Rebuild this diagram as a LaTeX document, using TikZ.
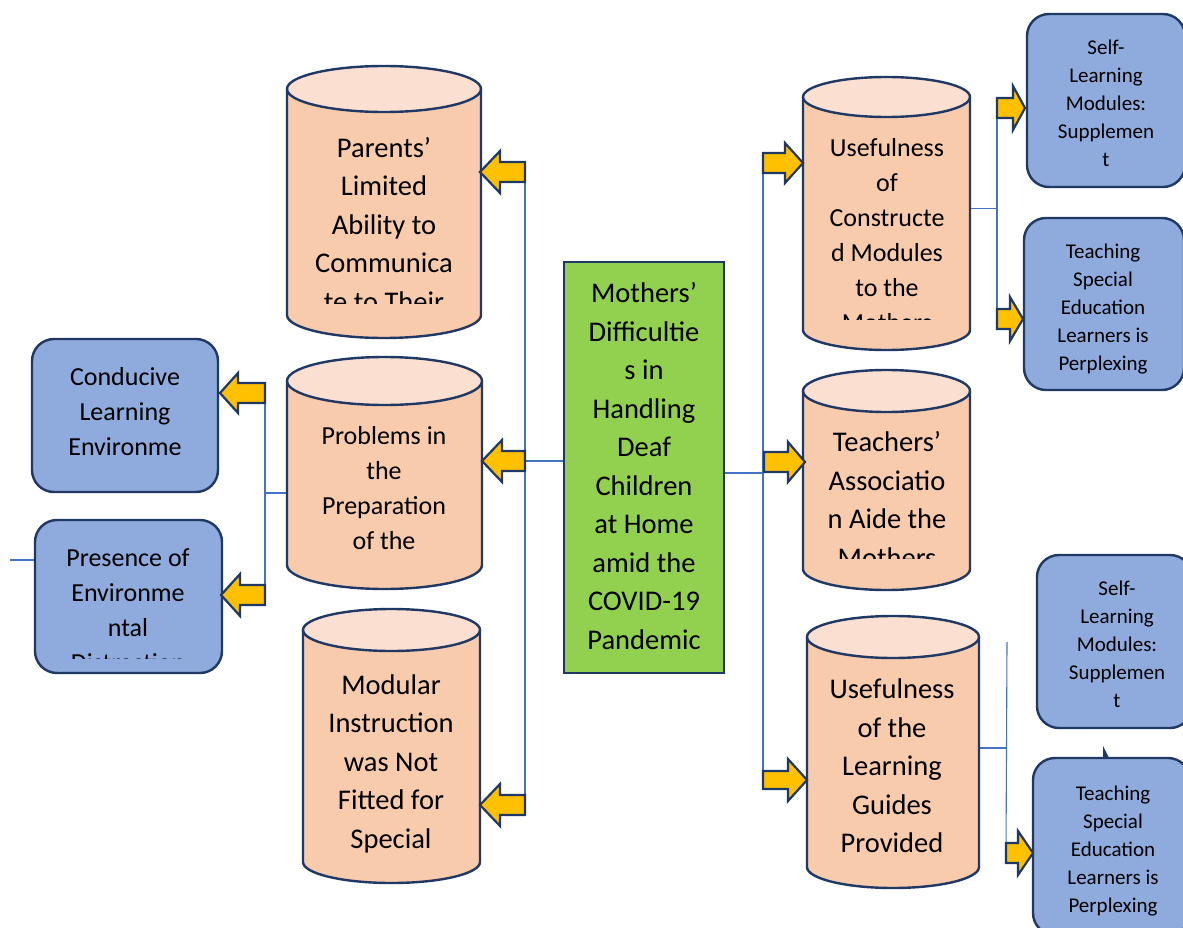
\documentclass[tikz,border=0pt]{standalone}
\usepackage{fontspec}
\setmainfont{Carlito}
\usetikzlibrary{calc}
\definecolor{navy}{HTML}{1F3864}
\definecolor{peach}{HTML}{F8CBAD}
\definecolor{peachtop}{HTML}{FBE0D1}
\definecolor{boxblue}{HTML}{8FAADC}
\definecolor{grn}{HTML}{92D050}
\definecolor{gold}{HTML}{FFC000}
\definecolor{linkblue}{HTML}{4472C4}
\pgfdeclarelayer{bg}
\pgfsetlayers{bg,main}
\newcommand{\fBig}{\fontsize{28.5}{38.5}\selectfont}
\newcommand{\fMid}{\fontsize{26}{35}\selectfont}
\newcommand{\fSmall}{\fontsize{21}{28}\selectfont}
% name, L, R, T, B, ry
\newcommand{\cylshape}[6]{%
  \node[inner sep=0, minimum width={(#3-#2)*1pt}, minimum height={(#5-#4)*1pt}] (#1) at ({(#2+#3)/2},{(#4+#5)/2}) {};
  \fill[peach] (#2,{#4+#6}) -- (#2,{#5-#6}) arc[start angle=180,end angle=360,x radius={(#3-#2)/2*1pt},y radius={#6*1pt}] -- (#3,{#4+#6}) arc[start angle=0,end angle=180,x radius={(#3-#2)/2*1pt},y radius={#6*1pt}] -- cycle;
  \filldraw[fill=peachtop, outl] ({(#2+#3)/2},{#4+#6}) ellipse [x radius={(#3-#2)/2*1pt},y radius={#6*1pt}];
  \draw[outl] (#2,{#4+#6}) -- (#2,{#5-#6}) arc[start angle=180,end angle=360,x radius={(#3-#2)/2*1pt},y radius={#6*1pt}] -- (#3,{#4+#6});
}
% name, tipx, tipy, dir(1 = points left, -1 = points right), length, head length, head half, shaft half
\newcommand{\blockarrow}[8]{%
  \coordinate (#1) at ({#2+(#4)*#5},#3);
  \draw[arrowst] (#2,#3) -- ++({(#4)*#6},{#7}) -- ++(0,{#8-#7}) -- ++({(#4)*(#5-#6)},0) -- ++(0,{-2*#8}) -- ++({(-1)*(#4)*(#5-#6)},0) -- ++(0,{#8-#7}) -- cycle;
}
\begin{document}
\begin{tikzpicture}[x=1pt,y=-1pt,
  outl/.style={draw=navy, line width=2.4pt},
  arrowst/.style={fill=gold, draw=navy, line width=2.2pt, line join=miter},
  link/.style={draw=linkblue, line width=1.1pt},
  rbox/.style={draw=navy, line width=2.4pt, fill=boxblue, rounded corners=22pt, inner sep=0},
  txt/.style={inner sep=0, align=center, anchor=north, text=black}]
\useasboundingbox (0,0) rectangle (1183,928);

% cylinders
\cylshape{cA}{287}{481}{66}{338}{23}
\cylshape{cB}{287}{482}{357}{589}{24}
\cylshape{cC}{303}{480}{609}{883}{21}
\cylshape{cD}{803}{970}{77}{350}{20}
\cylshape{cE}{803}{970}{370}{590}{21}
\cylshape{cF}{807}{979}{616}{888}{21}

% central box
\node[draw=navy, line width=2.4pt, fill=grn, inner sep=0, minimum width=160pt, minimum height=411pt] (ctr) at (644,467.5) {};

% rounded boxes
\node[rbox, minimum width=186pt, minimum height=153pt] (cond) at (125,415.5) {};
\node[rbox, minimum width=187pt, minimum height=153pt] (pres) at (128.5,596.5) {};
\node[rbox, minimum width=158pt, minimum height=173pt] (selfT) at (1106,100.5) {};
\node[rbox, minimum width=160pt, minimum height=172pt] (teachT) at (1104,304) {};
\node[rbox, minimum width=155pt, minimum height=173pt] (selfB) at (1114.5,641.5) {};
\node[rbox, minimum width=157pt, minimum height=177pt] (teachB) at (1111.5,846.5) {};
\fill[navy] (1103,746) -- (1109,758) -- (1103,758) -- cycle;

% texts
\begin{scope}
\clip (0,0) rectangle (1183,303);
\node[txt, font=\fBig] (tA) at (384,130) {\strut Parents’\\Limited\\Ability to\\Communica\\te to Their};
\end{scope}
\node[txt, font=\fMid] (tB) at (384,419.5) {\strut Problems in\\the\\Preparation\\of the};
\node[txt, font=\fBig] (tC) at (391,667) {\strut Modular\\Instruction\\was Not\\Fitted for\\Special};
\node[txt, font=\fBig] (tctr) at (644,275.7) {\strut Mothers’\\Difficultie\\s in\\Handling\\Deaf\\Children\\at Home\\amid the\\COVID-19\\Pandemic};
\begin{scope}
\clip (0,0) rectangle (1183,319);
\node[txt, font=\fMid] (tD) at (887,131.5) {\strut Usefulness\\of\\Constructe\\d Modules\\to the\\Mothers};
\end{scope}
\begin{scope}
\clip (0,0) rectangle (1183,558);
\node[txt, font=\fBig] (tE) at (887,424.8) {\strut Teachers’\\Associatio\\n Aide the\\Mothers};
\end{scope}
\node[txt, font=\fBig] (tF) at (892,671.8) {\strut Usefulness\\of the\\Learning\\Guides\\Provided};
\node[txt, font=\fMid] (tcond) at (125,360.5) {\strut Conducive\\Learning\\Environme};
\begin{scope}
\clip (0,0) rectangle (1183,658);
\node[txt, font=\fMid] (tpres) at (128,541.5) {\strut Presence of\\Environme\\ntal\\Distraction};
\end{scope}
\node[txt, font=\fSmall] (tselfT) at (1106,34.3) {\strut Self-\\Learning\\Modules:\\Supplemen\\t};
\node[txt, font=\fSmall] (tteachT) at (1103,238.3) {\strut Teaching\\Special\\Education\\Learners is\\Perplexing};
\node[txt, font=\fSmall] (tselfB) at (1117,575.3) {\strut Self-\\Learning\\Modules:\\Supplemen\\t};
\node[txt, font=\fSmall] (tteachB) at (1113,780.3) {\strut Teaching\\Special\\Education\\Learners is\\Perplexing};

% block arrows
\blockarrow{aA}{480}{172}{1}{45}{20}{21}{10}
\blockarrow{aB}{482}{461}{1}{43}{20}{21}{10}
\blockarrow{aC}{480}{805}{1}{45}{20}{21}{10}
\blockarrow{aCo}{220}{393}{1}{45}{18}{20}{10}
\blockarrow{aPr}{221}{595}{1}{44}{19}{21}{10}
\blockarrow{aD}{803}{163}{-1}{40}{18}{20}{10}
\blockarrow{aE}{805}{462}{-1}{41}{17}{20}{10}
\blockarrow{aF}{807}{780}{-1}{44}{19}{21}{9}
\blockarrow{aS1}{1025}{108}{-1}{28}{12}{22}{10}
\blockarrow{aS2}{1023}{319}{-1}{26}{13}{22}{10}
\blockarrow{aS3}{1033}{853}{-1}{27}{15}{22}{10}

\coordinate (fTop) at (1007,642);
\coordinate (stray) at (10,560);

% thin connectors
\begin{pgfonlayer}{bg}
\draw[link] (aA) -- (aC);
\draw[link] (ctr.west |- aB) -- (aB);
\draw[link] ([yshift=-5.5pt]ctr.east) -- ([yshift=-5.5pt]ctr.east -| aD);
\draw[link] (aD) -- (aF);
\draw[link] ([yshift=5pt]cD.east) -- ([yshift=5pt]cD.east -| aS1);
\draw[link] (aS1) -- (aS2);
\draw[link] ([yshift=4pt]cF.east) -- ([yshift=4pt]cF.east -| aS3);
\draw[link] (fTop) -- (aS3);
\draw[link] ([yshift=-20pt]cB.west) -- ([yshift=-20pt]cB.west -| aCo);
\draw[link] (aCo) -- (aPr);
\draw[link] (stray) -- (pres.west |- stray);
\end{pgfonlayer}
\end{tikzpicture}
\end{document}
